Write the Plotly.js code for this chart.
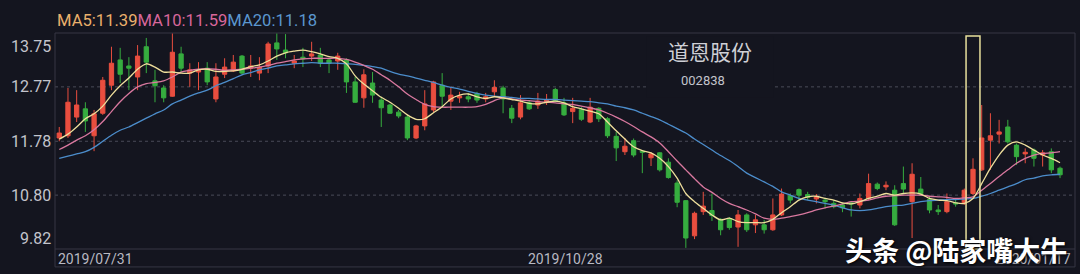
<!DOCTYPE html>
<html>
<head>
<meta charset="utf-8">
<script src="https://cdn.plot.ly/plotly-3.0.1.min.js"></script>
<style>
  html, body { margin: 0; padding: 0; background: #14151f; }
  #chart { width: 1080px; height: 274px; }
</style>
</head>
<body>
<div id="chart"></div>
<script>
// Daily K-line of 道恩股份 (002838), 2019/07/31 – 2020/01/17
const openP = [11.84,11.88,12.22,12.37,11.88,12.29,12.80,13.26,13.15,12.95,13.50,12.88,12.75,12.60,13.37,13.02,13.04,13.11,12.55,13.00,
  13.06,13.33,13.11,13.02,13.15,13.57,13.44,13.20,13.31,13.33,13.35,13.26,13.24,13.26,12.86,12.57,12.84,12.53,12.44,12.31,
  12.22,11.84,12.06,12.35,12.80,12.51,12.57,12.59,12.65,12.55,12.68,12.75,12.38,12.22,12.48,12.44,12.49,12.72,12.48,12.32,
  12.36,12.13,12.38,12.19,11.87,11.59,11.79,11.60,11.48,11.57,11.40,11.02,10.70,10.06,10.50,10.52,10.36,10.37,10.22,10.44,
  10.26,10.26,10.17,10.44,10.79,10.90,10.81,10.73,10.71,10.65,10.62,10.66,10.62,10.74,11.00,10.95,10.89,11.01,10.68,10.91,
  10.72,10.53,10.50,10.66,10.65,10.83,11.26,11.80,11.91,12.04,11.71,11.55,11.62,11.53,11.59,11.29];
const highP = [12.04,12.75,12.71,12.49,12.35,12.95,13.50,13.48,13.31,13.53,13.66,13.08,12.80,13.74,13.50,13.20,13.22,13.22,13.20,13.29,
  13.35,13.35,13.35,13.31,13.59,13.74,13.73,13.35,13.48,13.59,13.48,13.29,13.39,13.29,12.95,13.09,13.04,12.59,12.46,12.35,
  12.26,12.08,12.71,12.88,13.02,12.77,12.68,12.66,12.68,12.66,12.89,12.79,12.44,12.62,12.53,12.66,12.64,12.75,12.57,12.57,
  12.40,12.57,12.40,12.22,11.95,11.84,11.83,11.62,11.58,11.58,11.47,11.07,10.71,10.50,10.86,10.83,10.38,10.40,10.53,10.47,
  10.44,10.35,10.74,10.92,10.83,10.92,10.86,10.82,10.75,10.71,10.66,10.68,10.83,11.19,11.03,11.05,10.98,11.32,11.38,11.13,
  10.77,10.62,10.83,10.74,10.92,11.47,12.44,12.29,12.17,12.17,11.74,11.65,11.65,11.62,11.65,11.32];
const lowP = [11.78,11.84,12.13,11.95,11.60,12.26,12.71,12.84,12.71,12.71,13.02,12.49,12.49,12.59,13.04,12.77,12.71,12.80,12.49,12.93,
  13.04,12.99,12.95,12.89,13.02,13.26,13.29,13.11,13.13,13.24,13.13,13.02,13.08,12.66,12.48,12.39,12.48,12.04,12.28,12.20,
  11.80,11.82,11.98,12.31,12.42,12.35,12.48,12.49,12.48,12.49,12.60,12.29,12.11,12.18,12.35,12.37,12.44,12.49,12.24,12.11,
  12.15,12.11,12.13,11.84,11.42,11.53,11.49,11.20,11.33,11.23,11.10,10.58,9.84,10.00,10.44,10.33,10.07,10.17,9.86,10.13,
  10.11,10.10,10.15,10.42,10.65,10.71,10.71,10.65,10.56,10.56,10.49,10.41,10.56,10.71,10.89,10.89,10.24,10.84,10.02,10.80,
  10.47,10.44,10.47,10.59,10.62,10.80,11.24,11.26,11.74,11.74,11.35,11.38,11.32,11.32,11.20,11.11];
const closeP = [11.93,12.49,12.44,12.15,12.28,12.89,13.20,13.00,13.11,13.33,13.22,12.79,12.57,13.40,13.11,13.08,13.08,12.86,12.95,13.13,
  13.22,13.02,13.15,13.13,13.55,13.46,13.39,13.24,13.28,13.37,13.20,13.20,13.33,12.86,12.49,12.99,12.62,12.39,12.29,12.24,
  11.84,12.06,12.46,12.86,12.60,12.62,12.60,12.55,12.53,12.59,12.76,12.55,12.20,12.48,12.37,12.51,12.54,12.51,12.26,12.38,
  12.18,12.40,12.19,11.88,11.66,11.69,11.53,11.58,11.55,11.26,11.12,10.67,10.02,10.47,10.60,10.43,10.17,10.21,10.44,10.17,
  10.35,10.17,10.44,10.82,10.71,10.80,10.76,10.77,10.68,10.59,10.57,10.64,10.74,11.01,10.92,10.98,10.26,10.91,11.18,10.83,
  10.53,10.50,10.68,10.64,10.89,11.27,11.84,11.88,11.95,11.77,11.50,11.58,11.47,11.57,11.26,11.17];

// Moving averages as displayed by the quote software
const ma5 = [11.82,11.91,12.04,12.19,12.28,12.42,12.62,12.79,12.93,13.09,13.19,13.13,13.04,13.04,13.02,13.02,13.08,13.09,13.05,13.05,
  13.06,13.09,13.14,13.17,13.24,13.33,13.39,13.42,13.44,13.41,13.37,13.32,13.29,13.19,12.97,12.82,12.70,12.58,12.49,12.38,
  12.26,12.18,12.19,12.30,12.41,12.55,12.62,12.64,12.59,12.56,12.59,12.57,12.54,12.51,12.47,12.46,12.49,12.51,12.48,12.41,
  12.37,12.33,12.28,12.13,11.97,11.82,11.68,11.61,11.57,11.47,11.32,11.11,10.83,10.68,10.56,10.44,10.35,10.38,10.32,10.30,
  10.30,10.30,10.36,10.48,10.59,10.71,10.77,10.78,10.74,10.71,10.66,10.64,10.68,10.74,10.78,10.83,10.80,10.83,10.84,10.82,
  10.74,10.71,10.70,10.66,10.65,10.74,11.01,11.29,11.53,11.71,11.77,11.71,11.62,11.53,11.47,11.39];
const ma10 = [11.63,11.71,11.80,11.88,11.99,12.14,12.32,12.50,12.65,12.77,12.83,12.85,12.88,12.95,13.04,13.07,13.09,13.10,13.09,13.07,
  13.08,13.09,13.11,13.13,13.16,13.20,13.23,13.26,13.28,13.29,13.29,13.29,13.29,13.27,13.22,13.16,13.09,12.99,12.89,12.77,
  12.64,12.54,12.45,12.41,12.40,12.40,12.40,12.40,12.41,12.45,12.52,12.57,12.55,12.53,12.52,12.50,12.49,12.48,12.46,12.45,
  12.42,12.39,12.35,12.29,12.22,12.14,12.05,11.95,11.86,11.75,11.59,11.42,11.26,11.10,10.95,10.85,10.74,10.65,10.59,10.53,
  10.46,10.38,10.36,10.38,10.41,10.44,10.48,10.53,10.57,10.60,10.64,10.68,10.69,10.71,10.75,10.78,10.79,10.80,10.80,10.80,
  10.78,10.77,10.76,10.74,10.75,10.77,10.89,11.01,11.14,11.26,11.38,11.47,11.53,11.56,11.57,11.59];
const ma20 = [11.47,11.51,11.55,11.59,11.67,11.78,11.89,11.98,12.04,12.12,12.20,12.28,12.35,12.46,12.53,12.60,12.66,12.71,12.79,12.85,
  12.92,12.99,13.03,13.08,13.11,13.15,13.17,13.19,13.20,13.21,13.20,13.20,13.20,13.19,13.18,13.16,13.14,13.11,13.05,13.00,
  12.97,12.93,12.89,12.85,12.80,12.76,12.73,12.69,12.65,12.62,12.60,12.59,12.58,12.56,12.56,12.55,12.54,12.54,12.53,12.52,
  12.51,12.50,12.48,12.46,12.42,12.39,12.35,12.29,12.23,12.17,12.09,12.01,11.93,11.82,11.72,11.62,11.52,11.43,11.32,11.20,
  11.12,11.04,10.96,10.86,10.80,10.74,10.71,10.68,10.65,10.62,10.57,10.53,10.52,10.53,10.56,10.59,10.61,10.62,10.65,10.68,
  10.70,10.71,10.72,10.72,10.73,10.74,10.78,10.83,10.89,10.95,11.01,11.08,11.11,11.15,11.17,11.18];

const priceTicks = [13.75, 12.77, 11.78, 10.80, 9.82];
const dateLabels = ['2019/07/31', '2019/10/28', '2020/01/17'];
const markedDay = 105;   // session framed by the highlight box

const idx = openP.map((_, i) => i);
const last = a => a[a.length - 1].toFixed(2);

const BG = '#14151f';
const UP = '#e94e3f';
const DOWN = '#36ad3f';
const C_MA5 = '#efdf9c', C_MA10 = '#d9789f', C_MA20 = '#4c8dcb';

const traces = [
  {
    type: 'candlestick', x: idx, open: openP, high: highP, low: lowP, close: closeP,
    increasing: { line: { color: UP, width: 1 }, fillcolor: UP },
    decreasing: { line: { color: DOWN, width: 1 }, fillcolor: DOWN },
    whiskerwidth: 0, hoverinfo: 'skip', showlegend: false
  },
  { type: 'scatter', mode: 'lines', x: idx, y: ma20, line: { color: C_MA20, width: 1.3, shape: 'spline', smoothing: 0.8 }, hoverinfo: 'skip', showlegend: false },
  { type: 'scatter', mode: 'lines', x: idx, y: ma10, line: { color: C_MA10, width: 1.3, shape: 'spline', smoothing: 0.8 }, hoverinfo: 'skip', showlegend: false },
  { type: 'scatter', mode: 'lines', x: idx, y: ma5, line: { color: C_MA5, width: 1.3, shape: 'spline', smoothing: 0.8 }, hoverinfo: 'skip', showlegend: false }
];

const FRAME = '#363744';
const GRID = '#4a4b58';
const shapes = [];
// dotted interior price grid
priceTicks.slice(1, -1).forEach(v => shapes.push({
  type: 'line', xref: 'paper', yref: 'y', x0: 0, x1: 1, y0: v, y1: v,
  line: { color: GRID, width: 1, dash: 'dot' }, layer: 'below'
}));
// panel behind the stock name
shapes.push({ type: 'rect', xref: 'paper', yref: 'paper', x0: 0.580, x1: 0.704, y0: 0.70, y1: 0.985,
  fillcolor: BG, line: { width: 0 }, layer: 'below' });
// frame
[[0, 1, 1, 1], [0, 1, 0, 0], [0, 1, -0.083, -0.083], [0, 0, -0.083, 1], [1, 1, -0.083, 1]].forEach(([x0, x1, y0, y1]) =>
  shapes.push({ type: 'line', xref: 'paper', yref: 'paper', x0, x1, y0, y1, line: { color: FRAME, width: 1 }, layer: 'below' }));
// highlight box around the marked session
shapes.push({ type: 'rect', xref: 'x', yref: 'paper', x0: markedDay - 0.8, x1: markedDay + 0.8, y0: 0, y1: 0.986,
  line: { color: '#e8df9c', width: 1.5 }, fillcolor: 'rgba(0,0,0,0)' });

const FONT = 'Roboto, "Noto Sans", Arial, sans-serif';
const CJK = '"Noto Sans CJK SC", "Noto Sans", sans-serif';
const annotations = [];

// price labels on the left
priceTicks.forEach((v, k) => annotations.push({
  xref: 'paper', yref: 'y', x: 0, y: v, xanchor: 'right', xshift: -2,
  yanchor: k === 0 ? 'top' : (k === priceTicks.length - 1 ? 'bottom' : 'middle'),
  yshift: k === 0 ? -2 : (k === priceTicks.length - 1 ? -1 : 0),
  text: v.toFixed(2), showarrow: false, font: { family: FONT, size: 16, color: '#c3c4cc' }
}));

// moving-average readout
annotations.push({
  xref: 'paper', yref: 'paper', x: 0, y: 1.06, xanchor: 'left', yanchor: 'middle', showarrow: false,
  text: '<span style="color:#eab06c">MA5:' + last(ma5) + '</span>' +
        '<span style="color:#d8679b">MA10:' + last(ma10) + '</span>' +
        '<span style="color:#5b97cf">MA20:' + last(ma20) + '</span>',
  font: { family: FONT, size: 16.6 }
});

// stock name and code
annotations.push({ xref: 'paper', yref: 'paper', x: 0.642, y: 0.917, xanchor: 'center', yanchor: 'middle', showarrow: false,
  text: '道恩股份', font: { family: CJK, size: 21, color: '#cfd0d6' } });
annotations.push({ xref: 'paper', yref: 'paper', x: 0.635, y: 0.778, xanchor: 'center', yanchor: 'middle', showarrow: false,
  text: '002838', font: { family: FONT, size: 13, color: '#c3c4cc' } });

// date labels
[[0.001, 'left'], [0.5, 'center'], [0.998, 'right']].forEach(([x, a], k) => annotations.push({
  xref: 'paper', yref: 'paper', x, y: -0.046, xanchor: a, yanchor: 'middle', showarrow: false,
  text: dateLabels[k], font: { family: FONT, size: 14, color: '#b8b9c2' }
}));

// publisher mark
annotations.push({ xref: 'paper', yref: 'paper', x: 0.994, y: 0.0, xanchor: 'right', yanchor: 'middle', showarrow: false,
  text: '头条 @陆家嘴大牛', font: { family: CJK, size: 27, color: '#ffffff', weight: 'bold', shadow: '1px 1px 3px #000' } });

const layout = {
  width: 1080, height: 274,
  margin: { l: 55, r: 5, t: 33, b: 25 },
  paper_bgcolor: BG, plot_bgcolor: BG,
  showlegend: false,
  xaxis: { range: [-0.49, 116.72], showgrid: false, zeroline: false, showticklabels: false, showline: false,
           rangeslider: { visible: false }, fixedrange: true },
  yaxis: { range: [9.82, 13.75], showgrid: false, zeroline: false, showticklabels: false, showline: false, fixedrange: true },
  shapes, annotations
};

Plotly.newPlot('chart', traces, layout, { displayModeBar: false, staticPlot: true });
</script>
</body>
</html>
